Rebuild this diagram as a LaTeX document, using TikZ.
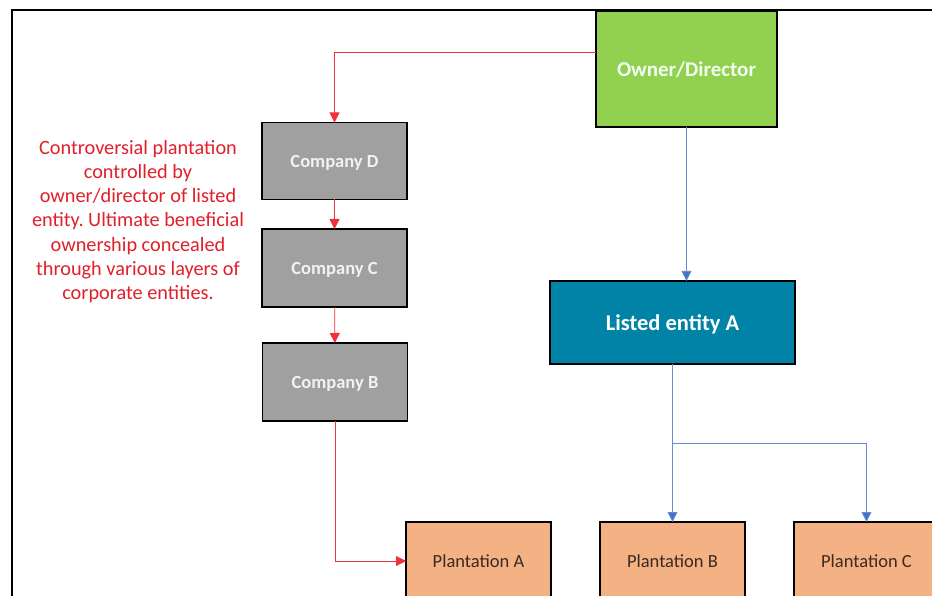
\documentclass[tikz,border=0pt]{standalone}
\usepackage{fontspec}
\setmainfont{Carlito}
\frenchspacing
\usetikzlibrary{arrows.meta}
\definecolor{ogreen}{HTML}{92D050}
\definecolor{cgray}{HTML}{A0A0A0}
\definecolor{lteal}{HTML}{0083A6}
\definecolor{porange}{HTML}{F4B183}
\definecolor{rline}{HTML}{F0303A}
\definecolor{rtext}{HTML}{E0202A}
\definecolor{bline}{HTML}{4472C4}
\definecolor{ptext}{HTML}{3A2A22}
\tikzset{
  box/.style={draw=black, line width=1.3pt, inner sep=0pt, outer sep=0pt, align=center},
  grbox/.style={box, fill=cgray, minimum width=145pt, minimum height=77pt, text depth=0pt, text=white!95!black, font=\bfseries\fontsize{18.5}{21}\selectfont},
  plbox/.style={box, fill=porange, minimum width=145pt, minimum height=78pt, text=ptext, font=\fontsize{18.5}{21}\selectfont},
  redarr/.style={draw=rline, line width=0.8pt, -{Triangle[width=10pt,length=10pt]}},
  bluearr/.style={draw=bline!80!white, line width=0.8pt, -{Triangle[width=10pt,length=10pt,fill=bline]}},
}
\begin{document}
\begin{tikzpicture}[x=1pt,y=-1pt]
\clip (0,0) rectangle (932,596);
\fill[white] (0,0) rectangle (932,596);
\draw[line width=2pt] (12,10) rectangle (950,620);
\node[box, fill=ogreen, minimum width=181pt, minimum height=116pt, text depth=0pt, text=white!95!green, font=\bfseries\fontsize{21}{24}\selectfont] (owner) at (686.5,69) {Owner/Director};
\node[grbox] (cd) at (334.5,161) {Company D};
\node[grbox, minimum height=78pt] (cc) at (334.5,268) {Company C};
\node[grbox, minimum height=78pt] (cb) at (335,382) {Company B};
\node[box, fill=lteal, minimum width=245pt, minimum height=83pt, text depth=0pt, text=white, font=\bfseries\fontsize{22.5}{26}\selectfont] (la) at (672.5,322.5) {Listed entity A};
\node[plbox] (pa) at (478.5,561) {Plantation A};
\node[plbox] (pb) at (672.5,561) {Plantation B};
\node[plbox] (pc) at (866.5,561) {Plantation C};
\node[text=rtext, align=center, inner sep=0pt, font=\fontsize{20.3}{24.3}\selectfont] (note) at (138,221.5) {Controversial plantation\\controlled by\\owner/director of listed\\entity. Ultimate beneficial\\ownership concealed\\through various layers of\\corporate entities.};
\coordinate (br) at (672.5,443);
\draw[redarr] ([yshift=17pt]owner.west) -| (cd.north);
\draw[redarr] (cd) -- (cc);
\draw[redarr] (cc) -- (cb);
\draw[redarr] (cb.south) |- (pa.west);
\draw[bluearr] (owner.south) -- (owner.south |- la.north);
\draw[bluearr] (la.south) -- (pb.north);
\draw[bluearr] (br) -| (pc.north);
\end{tikzpicture}
\end{document}
